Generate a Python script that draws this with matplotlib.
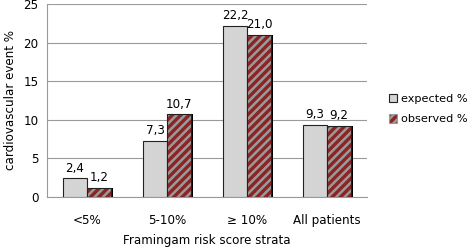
import numpy as np
import matplotlib.pyplot as plt
from matplotlib.patches import Patch

categories = ['<5%', '5-10%', '≥ 10%', 'All patients']
expected = [2.4, 7.3, 22.2, 9.3]
observed = [1.2, 10.7, 21.0, 9.2]
expected_labels = ['2,4', '7,3', '22,2', '9,3']
observed_labels = ['1,2', '10,7', '21,0', '9,2']

plt.rcParams['font.family'] = 'DejaVu Sans'
plt.rcParams['hatch.linewidth'] = 1.8

fig = plt.figure(figsize=(4.73, 2.47), dpi=100)
ax = fig.add_axes([47 / 473, 50 / 247, 320 / 473, 193 / 247])

x = np.arange(len(categories))
w = 0.3
fs = 8.6

# schaduw achter de observed balken
ax.bar(x + w / 2 + 0.03, observed, w, color='black', zorder=2)
ax.bar(x - w / 2, expected, w, color='#d4d4d4', edgecolor='#222222', linewidth=0.8, zorder=3)
ax.bar(x + w / 2, observed, w, color='#8b2525', edgecolor='#9a9a9a', hatch='////', linewidth=0, zorder=3)
ax.bar(x + w / 2, observed, w, color='none', edgecolor='#222222', linewidth=0.8, zorder=4)

# legenda handmatig
h1 = Patch(facecolor='#d4d4d4', edgecolor='#222222', linewidth=0.8)
h2 = Patch(facecolor='#8b2525', edgecolor='#9a9a9a', hatch='////', linewidth=0.8)
leg = fig.legend([h1, h2], ['expected %', 'observed %'], loc='center left',
                 bbox_to_anchor=(389 / 473, 1 - 109 / 247), frameon=False, fontsize=8.1,
                 handlelength=0.75, handleheight=0.75, handletextpad=0.35, labelspacing=0.95,
                 borderpad=0, borderaxespad=0)

for i in range(len(categories)):
    ax.text(x[i] - w / 2, expected[i] + 0.5, expected_labels[i], ha='center', va='bottom', fontsize=fs)
    ax.text(x[i] + w / 2, observed[i] + 0.5, observed_labels[i], ha='center', va='bottom', fontsize=fs)

ax.set_xlim(-0.5, 3.5)
ax.set_ylim(0, 25)
ax.set_yticks([0, 5, 10, 15, 20, 25])
ax.yaxis.grid(True, color='#9a9a9a', linewidth=0.8)
ax.set_axisbelow(True)
ax.set_xticks(x)
ax.set_xticklabels(categories)
ax.tick_params(axis='both', length=0, labelsize=fs, pad=6)
ax.tick_params(axis='x', pad=12)
for s in ['top', 'right']:
    ax.spines[s].set_visible(False)
ax.spines['left'].set_color('#9a9a9a')
ax.spines['bottom'].set_color('#9a9a9a')
ax.set_ylabel('cardiovascular event %', fontsize=fs, labelpad=5)
ax.set_xlabel('Framingam risk score strata', fontsize=fs, labelpad=5)

fig.savefig('out.png', dpi=100)
